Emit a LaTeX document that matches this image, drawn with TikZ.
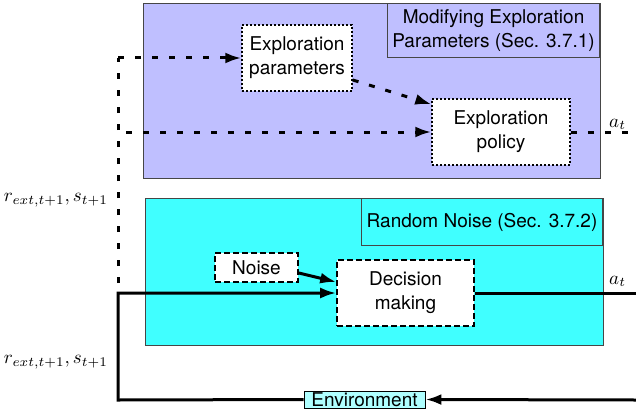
\documentclass[tikz,border=0pt]{standalone}
\usepackage{fontspec}
\setmainfont{TeX Gyre Heros}
\usetikzlibrary{arrows.meta}
\definecolor{purplebg}{RGB}{191,191,255}
\definecolor{cyanbg}{RGB}{64,255,255}
\definecolor{envbg}{RGB}{175,255,255}
\definecolor{framegray}{RGB}{70,70,70}
\newcommand{\bigmath}[1]{\scalebox{1.9}{$#1$}}
\tikzset{
  txt/.style={font=\fontsize{19}{24}\selectfont, align=center, inner sep=0pt},
  bigbox/.style={draw=framegray, line width=0.9pt},
  dotbox/.style={draw=black, fill=white, line width=1.5pt, dash pattern=on 2pt off 2pt, txt},
  dashbox/.style={draw=black, fill=white, line width=1.6pt, dash pattern=on 6pt off 3pt, txt},
  dotline/.style={line width=3pt, dash pattern=on 6pt off 11pt},
  solidline/.style={line width=3pt},
  tip/.style={-{Latex[length=16pt,width=11pt]}},
  mathlbl/.style={inner sep=0pt}
}
\begin{document}
\begin{tikzpicture}[x=1pt,y=-1pt]
\useasboundingbox (0,0) rectangle (636,409);
% purple region
\node[bigbox, fill=purplebg, minimum width=457pt, minimum height=175pt, anchor=north west, inner sep=0pt] (pbox) at (143,3) {};
\node[bigbox, minimum width=212pt, minimum height=54pt, anchor=north east, inner sep=0pt, txt] (ptitle) at (600,3) {Modifying Exploration\\Parameters (Sec. 3.7.1)};
% cyan region
\node[bigbox, fill=cyanbg, minimum width=458pt, minimum height=147pt, anchor=north west, inner sep=0pt] (cbox) at (145,198) {};
\node[bigbox, minimum width=241pt, minimum height=47pt, anchor=north east, inner sep=0pt, txt] (ctitle) at (603,198) {Random Noise (Sec. 3.7.2)};
% inner nodes
\node[dotbox, minimum width=110pt, minimum height=66pt] (eparam) at (297,58) {Exploration\\parameters};
\node[dotbox, minimum width=138pt, minimum height=66pt] (epolicy) at (501,132) {Exploration\\policy};
\node[dashbox, minimum width=83pt, minimum height=29pt] (noise) at (256.5,267.5) {Noise};
\node[dashbox, minimum width=137pt, minimum height=66pt] (decision) at (405.5,293) {Decision\\making};
\node[draw=black, fill=envbg, line width=0.9pt, minimum width=121pt, minimum height=17pt, txt] (env) at (364.5,399.5) {Environment};
% coordinates
\coordinate (ctop) at (118,58);
\coordinate (cmid) at (118,132);
\coordinate (cdot) at (118,283);
\coordinate (csol) at (118,293);
\coordinate (cbot) at (118,400);
\coordinate (rtop) at (636,132);
\coordinate (rmid) at (636,293);
\coordinate (rbot) at (636,400);
% dotted connectors
\draw[dotline] (cdot) -- (ctop);
\draw[dotline, tip] (ctop) -- (eparam.west);
\draw[dotline, tip] ([xshift=8pt]cmid) -- (epolicy.west);
\draw[dotline, tip] ([yshift=-22pt]eparam.east) -- ([yshift=-6pt]epolicy.north west);
\draw[dotline] (epolicy.east) -- (rtop);
% solid connectors
\draw[solidline, tip] (env.west) -- (cbot) -- (csol) -- (decision.west);
\draw[solidline, tip] ([yshift=-5.5pt]noise.east) -- ([yshift=11pt]decision.west);
\draw[solidline] (decision.east) -- (rmid);
\draw[solidline, tip] (rbot) -- (env.east);
% labels
\node[mathlbl, anchor=base west] (at1) at (609,127) {\bigmath{a_t}};
\node[mathlbl, anchor=base west] (at2) at (609,284) {\bigmath{a_t}};
\node[mathlbl, anchor=east] (r1) at (108,200) {\bigmath{r_{ext,t+1}, s_{t+1}}};
\node[mathlbl, anchor=east] (r2) at (108,362) {\bigmath{r_{ext,t+1}, s_{t+1}}};
\end{tikzpicture}
\end{document}
